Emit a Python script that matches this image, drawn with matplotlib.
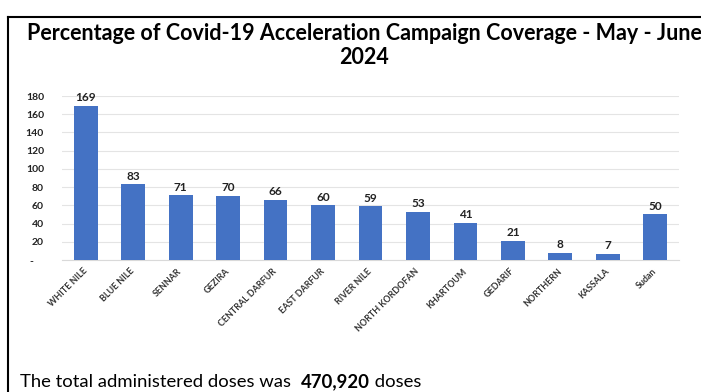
import matplotlib.pyplot as plt
import numpy as np
from matplotlib.lines import Line2D

plt.rcParams['font.family'] = ['Lato', 'DejaVu Sans']

# data
states = ["WHITE NILE", "BLUE NILE", "SENNAR", "GEZIRA", "CENTRAL DARFUR",
          "EAST DARFUR", "RIVER NILE", "NORTH KORDOFAN", "KHARTOUM",
          "GEDARIF", "NORTHERN", "KASSALA", "Sudan"]
coverage = [169, 83, 71, 70, 66, 60, 59, 53, 41, 21, 8, 7, 50]
y_ticks = [0, 20, 40, 60, 80, 100, 120, 140, 160, 180]
y_tick_labels = ["-    ", "20", "40", "60", "80", "100", "120", "140", "160", "180"]

W, H = 701, 392
fig = plt.figure(figsize=(W / 100, H / 100), dpi=100)

# frame lines (top and left)
fig.add_artist(Line2D([8 / W, 1], [1 - 17 / H, 1 - 17 / H], color='black', lw=1.5))
fig.add_artist(Line2D([8 / W, 8 / W], [1 - 17 / H, 0], color='black', lw=1.5))

fig.text(364 / W, 1 - 33 / H, "Percentage of Covid-19 Acceleration Campaign Coverage - May - June",
         ha='center', va='center', fontsize=15.5, fontweight='bold')
fig.text(364 / W, 1 - 58 / H, "2024", ha='center', va='center', fontsize=15.5, fontweight='bold')

ax = fig.add_axes([62 / W, 1 - 260 / H, (679 - 62) / W, (260 - 96) / H])
x = np.arange(len(states))
ax.bar(x, coverage, width=0.5, color='#4472C4', zorder=3)
for xi, v in zip(x, coverage):
    ax.text(xi, v + 3, str(v), ha='center', va='bottom', fontsize=8.5,
            fontweight='bold', color='#222222', clip_on=False)

ax.set_xlim(-0.5, len(states) - 0.5)
ax.set_ylim(0, 180)
ax.set_yticks(y_ticks)
ax.set_yticklabels(y_tick_labels, fontsize=7.5, fontweight='bold', color='#222222')
ax.tick_params(axis='y', length=0, pad=13)
ax.set_xticks(x)
ax.set_xticklabels(states, rotation=45, ha='right', va='center', rotation_mode='anchor',
                   fontsize=6.4, fontweight='bold', color='#333333')
ax.tick_params(axis='x', length=0, pad=7)
for lbl in ax.get_xticklabels():
    lbl.set_x(lbl.get_position()[0])
ax.grid(axis='y', color='#E4E4E4', lw=0.8, zorder=0)
for s in ['top', 'right', 'left']:
    ax.spines[s].set_visible(False)
ax.spines['bottom'].set_color('#D9D9D9')

# bottom note with bold number
fs = 13.3
fig.canvas.draw()
r = fig.canvas.get_renderer()
a = fig.text(20 / W, 1 - 387 / H, "The total administered doses was  ", ha='left', va='baseline', fontsize=fs)
bb = a.get_window_extent(r)
b = fig.text(bb.x1 / W, 1 - 387 / H, "470,920", ha='left', va='baseline', fontsize=fs, fontweight='bold')
bb2 = b.get_window_extent(r)
fig.text(bb2.x1 / W, 1 - 387 / H, " doses", ha='left', va='baseline', fontsize=fs)

fig.savefig("out.png", dpi=100)
